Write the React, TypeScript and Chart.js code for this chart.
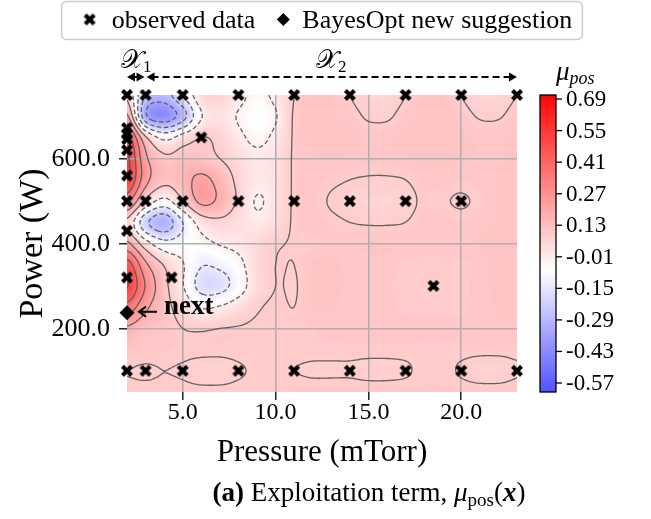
import React, { useEffect, useRef } from 'react';
import { Chart, registerables } from 'chart.js';

Chart.register(...registerables);

const SERIF = "'Liberation Serif', 'DejaVu Serif', serif";

// ---- grid of the posterior mean ----
const PRESSURE_GRID = [2, 3, 4, 5, 6, 7, 8, 9, 10, 11, 12, 13, 14, 15, 16, 17, 18, 19, 20, 21, 22, 23];
const POWER_GRID = [750, 700, 650, 600, 550, 500, 450, 400, 350, 300, 250, 200, 150, 100, 50];
const MU_750 = [0.10, -0.30, -0.35, -0.15, 0.08, 0.10, 0.03, -0.04, 0.02, 0.13, 0.16, 0.16, 0.13, 0.10, 0.10, 0.13, 0.16, 0.16, 0.13, 0.10, 0.10, 0.13];
const MU_700 = [0.30, -0.40, -0.52, -0.35, -0.02, 0.05, -0.02, -0.08, -0.02, 0.14, 0.16, 0.16, 0.15, 0.122, 0.122, 0.15, 0.165, 0.165, 0.15, 0.125, 0.125, 0.15];
const MU_650 = [0.62, 0.15, -0.05, 0.05, 0.13, 0.10, 0.02, -0.04, 0.02, 0.14, 0.16, 0.165, 0.165, 0.155, 0.155, 0.165, 0.17, 0.17, 0.165, 0.155, 0.155, 0.165];
const MU_600 = [0.72, 0.30, 0.16, 0.18, 0.17, 0.13, 0.07, 0.02, 0.05, 0.14, 0.155, 0.16, 0.155, 0.15, 0.15, 0.155, 0.165, 0.165, 0.16, 0.155, 0.155, 0.165];
const MU_550 = [0.70, 0.32, 0.17, 0.22, 0.30, 0.22, 0.10, 0.03, 0.05, 0.14, 0.15, 0.14, 0.13, 0.125, 0.125, 0.13, 0.15, 0.15, 0.145, 0.15, 0.16, 0.165];
const MU_500 = [0.45, 0.10, -0.05, 0.12, 0.30, 0.24, 0.11, -0.02, 0.05, 0.14, 0.145, 0.125, 0.11, 0.10, 0.10, 0.11, 0.14, 0.135, 0.125, 0.14, 0.16, 0.165];
const MU_450 = [0.10, -0.25, -0.38, -0.15, 0.05, 0.10, 0.06, 0.02, 0.07, 0.14, 0.15, 0.14, 0.13, 0.125, 0.125, 0.13, 0.15, 0.15, 0.145, 0.15, 0.16, 0.165];
const MU_400 = [0.30, 0.05, -0.10, -0.08, -0.05, 0.00, 0.03, 0.08, 0.12, 0.135, 0.14, 0.15, 0.155, 0.16, 0.16, 0.155, 0.15, 0.15, 0.155, 0.16, 0.165, 0.17];
const MU_350 = [0.62, 0.30, 0.12, 0.00, -0.14, -0.12, -0.05, 0.08, 0.13, 0.13, 0.16, 0.165, 0.15, 0.15, 0.15, 0.14, 0.14, 0.14, 0.14, 0.15, 0.165, 0.17];
const MU_300 = [0.70, 0.40, 0.17, 0.00, -0.20, -0.20, -0.08, 0.07, 0.13, 0.125, 0.165, 0.17, 0.15, 0.15, 0.145, 0.14, 0.135, 0.135, 0.14, 0.15, 0.165, 0.17];
const MU_250 = [0.50, 0.30, 0.17, 0.08, -0.02, 0.00, 0.06, 0.12, 0.14, 0.13, 0.16, 0.16, 0.15, 0.15, 0.15, 0.14, 0.14, 0.14, 0.14, 0.15, 0.16, 0.165];
const MU_200 = [0.25, 0.18, 0.16, 0.13, 0.12, 0.13, 0.135, 0.14, 0.14, 0.14, 0.145, 0.15, 0.15, 0.15, 0.15, 0.15, 0.15, 0.15, 0.15, 0.155, 0.155, 0.155];
const MU_150 = [0.16, 0.15, 0.145, 0.14, 0.14, 0.14, 0.14, 0.14, 0.14, 0.14, 0.14, 0.14, 0.14, 0.14, 0.14, 0.14, 0.14, 0.14, 0.14, 0.14, 0.14, 0.14];
const MU_100 = [0.13, 0.125, 0.13, 0.125, 0.11, 0.11, 0.125, 0.135, 0.135, 0.13, 0.125, 0.125, 0.125, 0.12, 0.12, 0.125, 0.14, 0.14, 0.125, 0.11, 0.11, 0.125];
const MU_50 = [0.14, 0.14, 0.14, 0.14, 0.14, 0.14, 0.14, 0.14, 0.14, 0.145, 0.145, 0.145, 0.145, 0.145, 0.145, 0.145, 0.145, 0.145, 0.145, 0.145, 0.145, 0.145];
const MU_GRID = [MU_750, MU_700, MU_650, MU_600, MU_550, MU_500, MU_450, MU_400, MU_350, MU_300, MU_250, MU_200, MU_150, MU_100, MU_50];

// ---- observed points ----
const OBS_PRESSURE = [2, 2, 2, 2, 2, 2, 2, 2, 2, 2, 3, 3, 3, 4.4, 5, 5, 5, 6, 8, 8, 8, 11, 11, 11, 14, 14, 14, 17, 17, 17, 18.5, 20, 20, 20, 23, 23];
const OBS_POWER = [750, 672, 658, 646, 620, 560, 500, 430, 320, 100, 750, 500, 100, 320, 750, 500, 100, 650, 750, 500, 100, 750, 500, 100, 750, 500, 100, 750, 500, 100, 300, 750, 500, 100, 750, 100];
const NEXT_PRESSURE = [2];
const NEXT_POWER = [237];

// ---- axes / colorbar ----
const X_MIN = 2, X_MAX = 23, Y_MIN = 50, Y_MAX = 750;
const X_TICKS = [5, 10, 15, 20];
const Y_TICKS = [200, 400, 600];
const X_TITLE = 'Pressure (mTorr)';
const Y_TITLE = 'Power (W)';
const CB_TICKS = [0.69, 0.55, 0.41, 0.27, 0.13, -0.01, -0.15, -0.29, -0.43, -0.57];
const CB_MIN = -0.61, CB_MAX = 0.708;
const CMAP_MIN = -0.86, CMAP_MAX = 0.72;
const CONTOUR_LEVELS = [-0.57, -0.43, -0.29, -0.15, -0.01, 0.13, 0.27, 0.41, 0.55, 0.69];
const FILL_STEP = 0.014;
const REGION_EDGES = [2, 3, 23];
const REGION_NAMES = ['𝒳', '𝒳'];
const REGION_SUBS = ['1', '2'];

function fracIndex(arr: number[], v: number) {
  const n = arr.length;
  const inc = arr[n - 1] > arr[0];
  for (let k = 0; k < n - 1; k++) {
    const a = arr[k], b = arr[k + 1];
    if ((inc && v >= a && v <= b) || (!inc && v <= a && v >= b)) return k + (v - a) / (b - a);
  }
  if (inc) return v < arr[0] ? 0 : n - 1;
  return v > arr[0] ? 0 : n - 1;
}
function cr(p0: number, p1: number, p2: number, p3: number, t: number) {
  return 0.5 * (2 * p1 + (-p0 + p2) * t + (2 * p0 - 5 * p1 + 4 * p2 - p3) * t * t + (-p0 + 3 * p1 - 3 * p2 + p3) * t * t * t);
}
function sampleMu(p: number, w: number) {
  const nx = PRESSURE_GRID.length, ny = POWER_GRID.length;
  const fx = fracIndex(PRESSURE_GRID, p), fy = fracIndex(POWER_GRID, w);
  const ix = Math.min(Math.floor(fx), nx - 2), iy = Math.min(Math.floor(fy), ny - 2);
  const tx = fx - ix, ty = fy - iy;
  const g = (r: number, c: number) => MU_GRID[Math.max(0, Math.min(ny - 1, r))][Math.max(0, Math.min(nx - 1, c))];
  const rows = [-1, 0, 1, 2].map((dr) => cr(g(iy + dr, ix - 1), g(iy + dr, ix), g(iy + dr, ix + 1), g(iy + dr, ix + 2), tx));
  return cr(rows[0], rows[1], rows[2], rows[3], ty);
}
function bwr(v: number): [number, number, number] {
  let t = (v - CMAP_MIN) / (CMAP_MAX - CMAP_MIN);
  t = Math.max(0, Math.min(1, t));
  if (t < 0.5) { const c = 2 * t * 255; return [c, c, 255]; }
  const c = (2 - 2 * t) * 255;
  return [255, c, c];
}

type Pt = [number, number];
function buildContours() {
  const ps: number[] = [], ws: number[] = [];
  for (let i = 0; i <= 210; i++) ps.push(2 + i * 0.1);
  for (let j = 0; j <= 140; j++) ws.push(50 + j * 5);
  const f = ws.map((w) => ps.map((p) => sampleMu(p, w)));
  const out: { level: number; lines: Pt[][] }[] = [];
  for (const L of CONTOUR_LEVELS) {
    const segs: { k1: string; k2: string; p1: Pt; p2: Pt }[] = [];
    for (let j = 0; j < ws.length - 1; j++) {
      for (let i = 0; i < ps.length - 1; i++) {
        const a = f[j][i], b = f[j][i + 1], c = f[j + 1][i + 1], d = f[j + 1][i];
        const cross: { k: string; p: Pt }[] = [];
        const edge = (v1: number, v2: number, k: string, mk: (t: number) => Pt) => {
          if ((v1 >= L) !== (v2 >= L)) cross.push({ k, p: mk((L - v1) / (v2 - v1)) });
          else cross.push(null as any);
        };
        edge(a, b, `h${i}_${j}`, (t) => [ps[i] + t * (ps[i + 1] - ps[i]), ws[j]]);
        edge(b, c, `v${i + 1}_${j}`, (t) => [ps[i + 1], ws[j] + t * (ws[j + 1] - ws[j])]);
        edge(d, c, `h${i}_${j + 1}`, (t) => [ps[i] + t * (ps[i + 1] - ps[i]), ws[j + 1]]);
        edge(a, d, `v${i}_${j}`, (t) => [ps[i], ws[j] + t * (ws[j + 1] - ws[j])]);
        const present = cross.filter((x) => x);
        if (present.length === 2) {
          segs.push({ k1: present[0].k, k2: present[1].k, p1: present[0].p, p2: present[1].p });
        } else if (present.length === 4) {
          const center = (a + b + c + d) / 4;
          const [bo, ri, to, le] = cross;
          if ((center >= L) === (a >= L)) {
            segs.push({ k1: bo.k, k2: ri.k, p1: bo.p, p2: ri.p });
            segs.push({ k1: to.k, k2: le.k, p1: to.p, p2: le.p });
          } else {
            segs.push({ k1: bo.k, k2: le.k, p1: bo.p, p2: le.p });
            segs.push({ k1: ri.k, k2: to.k, p1: ri.p, p2: to.p });
          }
        }
      }
    }
    const adj = new Map<string, number[]>();
    segs.forEach((s, idx) => {
      if (!adj.has(s.k1)) adj.set(s.k1, []);
      if (!adj.has(s.k2)) adj.set(s.k2, []);
      adj.get(s.k1)!.push(idx);
      adj.get(s.k2)!.push(idx);
    });
    const used = new Array(segs.length).fill(false);
    const lines: Pt[][] = [];
    for (let s0 = 0; s0 < segs.length; s0++) {
      if (used[s0]) continue;
      used[s0] = true;
      const line: Pt[] = [segs[s0].p1, segs[s0].p2];
      let key = segs[s0].k2;
      for (;;) {
        const nxt = (adj.get(key) || []).find((n) => !used[n]);
        if (nxt === undefined) break;
        used[nxt] = true;
        const t = segs[nxt];
        if (t.k1 === key) { line.push(t.p2); key = t.k2; } else { line.push(t.p1); key = t.k1; }
      }
      key = segs[s0].k1;
      for (;;) {
        const nxt = (adj.get(key) || []).find((n) => !used[n]);
        if (nxt === undefined) break;
        used[nxt] = true;
        const t = segs[nxt];
        if (t.k1 === key) { line.unshift(t.p2); key = t.k2; } else { line.unshift(t.p1); key = t.k1; }
      }
      lines.push(line);
    }
    out.push({ level: L, lines });
  }
  return out;
}

function makeXMarker() {
  const c = document.createElement('canvas');
  c.width = 14; c.height = 14;
  const g = c.getContext('2d')!;
  g.strokeStyle = '#000';
  g.lineWidth = 4.2;
  g.lineCap = 'butt';
  g.beginPath();
  g.moveTo(2.5, 2.5); g.lineTo(11.5, 11.5);
  g.moveTo(11.5, 2.5); g.lineTo(2.5, 11.5);
  g.stroke();
  return c;
}

function diamond(ctx: CanvasRenderingContext2D, x: number, y: number, r: number) {
  ctx.beginPath();
  ctx.moveTo(x, y - r); ctx.lineTo(x + r, y); ctx.lineTo(x, y + r); ctx.lineTo(x - r, y);
  ctx.closePath();
  ctx.fill();
}
function head(ctx: CanvasRenderingContext2D, x: number, y: number, dir: number) {
  ctx.beginPath();
  ctx.moveTo(x, y); ctx.lineTo(x - dir * 8, y - 4.5); ctx.lineTo(x - dir * 8, y + 4.5);
  ctx.closePath();
  ctx.fill();
}

let HEAT: { key: string; canvas: HTMLCanvasElement } | null = null;
const heatmapPlugin = {
  id: 'heatmap',
  beforeDraw(chart: any) {
    const { ctx, chartArea: a, scales } = chart;
    const xs = scales.x, ys = scales.y;
    const W = Math.round(a.right - a.left), H = Math.round(a.bottom - a.top);
    const key = `${a.left},${a.top},${W},${H}`;
    if (!HEAT || HEAT.key !== key) {
      const off = document.createElement('canvas');
      off.width = W; off.height = H;
      const g = off.getContext('2d')!;
      const img = g.createImageData(W, H);
      const alpha = 0.78;
      for (let py = 0; py < H; py++) {
        const w = ys.getValueForPixel(a.top + py + 0.5);
        for (let px = 0; px < W; px++) {
          const p = xs.getValueForPixel(a.left + px + 0.5);
          let v = sampleMu(p, w);
          v = Math.floor((v - CB_TICKS[9]) / FILL_STEP) * FILL_STEP + CB_TICKS[9] + FILL_STEP / 2;
          const [r, gg, b] = bwr(v);
          const k = (py * W + px) * 4;
          img.data[k] = 255 - alpha * (255 - r);
          img.data[k + 1] = 255 - alpha * (255 - gg);
          img.data[k + 2] = 255 - alpha * (255 - b);
          img.data[k + 3] = 255;
        }
      }
      g.putImageData(img, 0, 0);
      HEAT = { key, canvas: off };
    }
    ctx.drawImage(HEAT.canvas, a.left, a.top);
  },
};

let CONTOURS: { level: number; lines: Pt[][] }[] | null = null;
const contourPlugin = {
  id: 'contours',
  beforeDatasetsDraw(chart: any) {
    if (!CONTOURS) CONTOURS = buildContours();
    const { ctx, chartArea: a, scales } = chart;
    ctx.save();
    ctx.beginPath();
    ctx.rect(a.left, a.top, a.right - a.left, a.bottom - a.top);
    ctx.clip();
    ctx.strokeStyle = 'rgba(90,90,90,0.95)';
    ctx.lineWidth = 1.3;
    for (const c of CONTOURS) {
      ctx.setLineDash(c.level < 0 ? [4.5, 2.5] : []);
      for (const line of c.lines) {
        ctx.beginPath();
        line.forEach((pt, i) => {
          const X = scales.x.getPixelForValue(pt[0]);
          const Y = scales.y.getPixelForValue(pt[1]);
          if (i === 0) ctx.moveTo(X, Y); else ctx.lineTo(X, Y);
        });
        ctx.stroke();
      }
    }
    ctx.restore();
  },
};

// left-aligned text helper: anchor 0 = left, 0.5 = centre, 1 = right
function textAt(ctx: CanvasRenderingContext2D, s: string, font: string, x: number, y: number, anchor: number) {
  ctx.font = font;
  ctx.textAlign = 'left';
  const w = ctx.measureText(s).width;
  ctx.fillText(s, x - anchor * w, y);
}

const decorPlugin = {
  id: 'decor',
  afterDraw(chart: any) {
    const { ctx, chartArea: a, scales } = chart;
    const xs = scales.x, ys = scales.y;
    ctx.save();
    ctx.fillStyle = '#000';
    ctx.strokeStyle = '#000';
    ctx.textAlign = 'left';

    // legend
    const ds = chart.data.datasets;
    ctx.font = `26px ${SERIF}`;
    const t1 = ds[0].label, t2 = ds[1].label;
    const w1 = ctx.measureText(t1).width, w2 = ctx.measureText(t2).width;
    const total = 50 + w1 + 47 + w2 + 10;
    const bx = (a.left + a.right) / 2 - total / 2;
    const t1x = bx + 50;
    ctx.save();
    ctx.fillStyle = 'rgba(255,255,255,0.9)';
    ctx.strokeStyle = '#cccccc';
    ctx.lineWidth = 1.5;
    ctx.beginPath();
    (ctx as any).roundRect(bx, 1.5, total, 38, 5);
    ctx.fill();
    ctx.stroke();
    ctx.restore();
    const xm = ds[0].pointStyle as HTMLCanvasElement;
    ctx.drawImage(xm, t1x - 22 - 7, 19.5 - 7);
    ctx.textBaseline = 'middle';
    ctx.fillText(t1, t1x, 21);
    diamond(ctx, t1x + w1 + 28, 19.5, 6.5);
    ctx.fillText(t2, t1x + w1 + 47, 21);

    // design-space arrows
    const ay = 77;
    const e = REGION_EDGES.map((v) => xs.getPixelForValue(v));
    ctx.lineWidth = 2;
    for (let r = 0; r < 2; r++) {
      const x1 = e[r], x2 = e[r + 1];
      ctx.setLineDash([7, 4]);
      ctx.beginPath();
      ctx.moveTo(x1 + 6, ay); ctx.lineTo(x2 - 6, ay);
      ctx.stroke();
      ctx.setLineDash([]);
      head(ctx, x1 + (r === 1 ? 1 : 0), ay, -1);
      head(ctx, x2 - (r === 0 ? 1 : 0), ay, 1);
      const cx = (x1 + x2) / 2;
      ctx.font = `26px ${SERIF}`;
      const wn = ctx.measureText(REGION_NAMES[r]).width;
      ctx.font = `17px ${SERIF}`;
      const ws = ctx.measureText(REGION_SUBS[r]).width;
      const sx = cx - (wn + ws) / 2;
      ctx.textBaseline = 'alphabetic';
      ctx.font = `26px ${SERIF}`;
      ctx.fillText(REGION_NAMES[r], sx, 68);
      ctx.font = `17px ${SERIF}`;
      ctx.fillText(REGION_SUBS[r], sx + wn, 72);
    }

    // next annotation
    const dx = xs.getPixelForValue(NEXT_PRESSURE[0]);
    const dy = ys.getPixelForValue(NEXT_POWER[0]);
    ctx.lineWidth = 2;
    ctx.beginPath();
    ctx.moveTo(dx + 30, dy - 1); ctx.lineTo(dx + 12, dy - 1);
    ctx.moveTo(dx + 19, dy - 6); ctx.lineTo(dx + 12, dy - 1); ctx.lineTo(dx + 19, dy + 4);
    ctx.stroke();
    ctx.font = `bold 27px ${SERIF}`;
    ctx.textBaseline = 'alphabetic';
    ctx.fillText('next', dx + 37, dy + 1);

    // colorbar
    const cbL = 540, cbW = 16;
    const cy = (v: number) => a.top + ((CB_MAX - v) / (CB_MAX - CB_MIN)) * (a.bottom - a.top);
    for (let py = Math.floor(a.top); py < a.bottom; py++) {
      const v = CB_MAX - ((py + 0.5 - a.top) / (a.bottom - a.top)) * (CB_MAX - CB_MIN);
      const [r, g, b] = bwr(v);
      ctx.fillStyle = `rgb(${r},${g},${b})`;
      ctx.fillRect(cbL, py, cbW, 1);
    }
    ctx.fillStyle = '#000';
    ctx.lineWidth = 1.3;
    ctx.strokeRect(cbL, a.top, cbW, a.bottom - a.top);
    ctx.font = `23px ${SERIF}`;
    ctx.textBaseline = 'middle';
    for (const t of CB_TICKS) {
      const y = cy(t);
      ctx.beginPath();
      ctx.moveTo(cbL + cbW, y); ctx.lineTo(cbL + cbW + 6, y);
      ctx.stroke();
      ctx.fillText(t.toFixed(2), cbL + cbW + 10, y + 1);
    }
    ctx.textBaseline = 'alphabetic';
    ctx.font = `italic 27px ${SERIF}`;
    ctx.fillText('μ', 556, 80);
    const mw = ctx.measureText('μ').width;
    ctx.font = `italic 18px ${SERIF}`;
    ctx.fillText('pos', 556 + mw, 84);

    // caption
    const parts: [string, string, number][] = [
      ['(a)', `bold 27px ${SERIF}`, 0],
      [' Exploitation term, ', `27px ${SERIF}`, 0],
      ['μ', `italic 27px ${SERIF}`, 0],
      ['pos', `19px ${SERIF}`, 5],
      ['(', `27px ${SERIF}`, 0],
      ['x', `bold italic 27px ${SERIF}`, 0],
      [')', `27px ${SERIF}`, 0],
    ];
    let tw = 0;
    const widths = parts.map(([s, f]) => { ctx.font = f; const w = ctx.measureText(s).width; tw += w; return w; });
    let cx0 = 369 - tw / 2;
    parts.forEach(([s, f, dyy], i) => {
      ctx.font = f;
      ctx.fillText(s, cx0, 501 + dyy);
      cx0 += widths[i];
    });

    // axis tick labels and titles (positions from the chart's scales)
    ctx.textBaseline = 'middle';
    for (const t of ys.ticks) {
      textAt(ctx, Number(t.value).toFixed(1), `26px ${SERIF}`, a.left - 17, ys.getPixelForValue(t.value) + 1, 1);
    }
    for (const t of xs.ticks) {
      textAt(ctx, Number(t.value).toFixed(1), `24px ${SERIF}`, xs.getPixelForValue(t.value), a.bottom + 21, 0.5);
    }
    textAt(ctx, X_TITLE, `31px ${SERIF}`, (a.left + a.right) / 2, 453, 0.5);
    ctx.save();
    ctx.translate(33, (a.top + a.bottom) / 2);
    ctx.rotate(-Math.PI / 2);
    textAt(ctx, Y_TITLE, `34px ${SERIF}`, 0, 0, 0.5);
    ctx.restore();
    ctx.restore();
  },
};

export default function App() {
  const ref = useRef<HTMLCanvasElement>(null);
  useEffect(() => {
    if (!ref.current) return;
    const xMarker = makeXMarker();
    const obs = OBS_PRESSURE.map((p, i) => ({ x: p, y: OBS_POWER[i] }));
    const nxt = NEXT_PRESSURE.map((p, i) => ({ x: p, y: NEXT_POWER[i] }));
    const chart = new Chart(ref.current, {
      type: 'scatter',
      data: {
        datasets: [
          { label: 'observed data', data: obs, pointStyle: xMarker as any, pointRadius: 7, clip: false as any, backgroundColor: '#000', borderColor: '#000' },
          { label: 'BayesOpt new suggestion', data: nxt, pointStyle: 'rectRot', pointRadius: 7.5, borderWidth: 0, clip: false as any, backgroundColor: '#000', borderColor: '#000' },
        ],
      },
      options: {
        responsive: false,
        animation: false,
        events: [],
        layout: { padding: { top: 95, right: 134, left: 0, bottom: 0 } },
        plugins: { legend: { display: false }, tooltip: { enabled: false }, title: { display: false } },
        scales: {
          x: {
            type: 'linear',
            min: X_MIN,
            max: X_MAX,
            afterBuildTicks: (s: any) => { s.ticks = X_TICKS.map((v) => ({ value: v })); },
            afterFit: (s: any) => { s.height = 127; },
            grid: { color: '#b0b0b0', lineWidth: 1.6, tickColor: '#000', tickLength: 8, tickWidth: 1.3 },
            border: { display: false },
            ticks: { display: false, autoSkip: false },
            title: { display: false, text: X_TITLE },
          },
          y: {
            type: 'linear',
            min: Y_MIN,
            max: Y_MAX,
            afterBuildTicks: (s: any) => { s.ticks = Y_TICKS.map((v) => ({ value: v })); },
            afterFit: (s: any) => { s.width = 127; },
            grid: { color: '#b0b0b0', lineWidth: 1.6, tickColor: '#000', tickLength: 8, tickWidth: 1.3 },
            border: { display: false },
            ticks: { display: false, autoSkip: false },
            title: { display: false, text: Y_TITLE },
          },
        },
      },
      plugins: [heatmapPlugin, contourPlugin, decorPlugin],
    });
    let alive = true;
    const redraw = () => { if (alive) chart.draw(); };
    const timers = [setTimeout(redraw, 60), setTimeout(redraw, 300)];
    return () => {
      alive = false;
      timers.forEach((t) => clearTimeout(t));
      chart.destroy();
    };
  }, []);
  return (
    <div style={{ position: 'absolute', left: 0, top: 0, width: 651, height: 519, background: '#fff' }}>
      <canvas ref={ref} width={651} height={519} style={{ display: 'block' }} />
    </div>
  );
}
